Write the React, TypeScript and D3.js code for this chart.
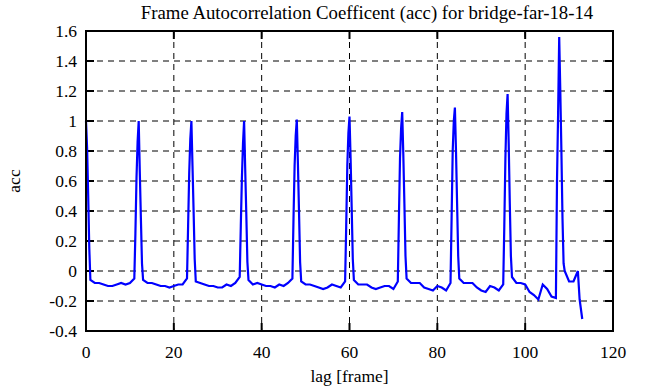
import React from 'react';
import * as d3 from 'd3';

// lag values (frames) and the matching autocorrelation coefficient
const lags: number[] = [
  0, 0.25, 0.5, 0.75, 1, 2, 3, 4, 5, 6, 7, 8, 9, 10, 11,
  11.25, 11.5, 11.75, 12, 12.25, 12.5, 12.75, 13, 14, 15, 16, 17, 18, 19, 20, 21, 22, 23,
  23.25, 23.5, 23.75, 24, 24.25, 24.5, 24.75, 25, 26, 27, 28, 29, 30, 31, 32, 33, 34, 35,
  35.25, 35.5, 35.75, 36, 36.25, 36.5, 36.75, 37, 38, 39, 40, 41, 42, 43, 44, 45, 46, 47,
  47.25, 47.5, 47.75, 48, 48.25, 48.5, 48.75, 49, 50, 51, 52, 53, 54, 55, 56, 57, 58, 59,
  59.25, 59.5, 59.75, 60, 60.25, 60.5, 60.75, 61, 62, 63, 64, 65, 66, 67, 68, 69, 70, 71,
  71.25, 71.5, 71.75, 72, 72.25, 72.5, 72.75, 73, 74, 75, 76, 77, 78, 79, 80, 81, 82, 83,
  83.25, 83.5, 83.75, 84, 84.25, 84.5, 84.75, 85, 86, 87, 88, 89, 90, 91, 92, 93, 94, 95,
  95.25, 95.5, 95.75, 96, 96.25, 96.5, 96.75, 97, 98, 99, 100, 101, 102, 103, 104, 105, 106, 107,
  107.25, 107.5, 107.75, 108, 108.25, 108.5, 108.75, 109, 110, 111, 112, 112.4, 113,
];

const acc: number[] = [
  1.0, 0.82, 0.5, 0.15, -0.06, -0.08, -0.08, -0.09, -0.1, -0.1, -0.09, -0.08, -0.09, -0.08, -0.05,
  0.25, 0.62, 0.86, 1.0, 0.66, 0.35, 0.05, -0.06, -0.08, -0.08, -0.09, -0.1, -0.1, -0.11, -0.1, -0.09, -0.09, -0.05,
  0.3, 0.65, 0.88, 1.0, 0.7, 0.4, 0.08, -0.07, -0.08, -0.09, -0.1, -0.1, -0.11, -0.11, -0.09, -0.1, -0.08, -0.04,
  0.3, 0.62, 0.85, 1.0, 0.68, 0.38, 0.06, -0.06, -0.09, -0.08, -0.09, -0.1, -0.1, -0.11, -0.09, -0.1, -0.08, -0.05,
  0.35, 0.7, 0.9, 1.01, 0.72, 0.4, 0.06, -0.07, -0.09, -0.09, -0.1, -0.11, -0.12, -0.11, -0.09, -0.1, -0.11, -0.07,
  0.3, 0.7, 0.92, 1.03, 0.75, 0.42, 0.08, -0.06, -0.09, -0.09, -0.09, -0.11, -0.12, -0.11, -0.1, -0.1, -0.12, -0.07,
  0.35, 0.75, 0.95, 1.06, 0.78, 0.45, 0.1, -0.05, -0.08, -0.08, -0.08, -0.11, -0.12, -0.13, -0.1, -0.11, -0.13, -0.08,
  0.35, 0.8, 1.0, 1.09, 0.8, 0.45, 0.1, -0.05, -0.08, -0.08, -0.08, -0.11, -0.13, -0.14, -0.1, -0.11, -0.13, -0.09,
  0.3, 0.75, 1.05, 1.18, 0.85, 0.45, 0.1, -0.04, -0.08, -0.08, -0.09, -0.14, -0.16, -0.19, -0.09, -0.12, -0.17, -0.18,
  0.6, 1.05, 1.56, 1.2, 0.8, 0.35, 0.05, 0.0, -0.07, -0.07, 0.0, -0.19, -0.32,
];

const xTicks = [0, 20, 40, 60, 80, 100, 120];
const yTicks = [-0.4, -0.2, 0, 0.2, 0.4, 0.6, 0.8, 1, 1.2, 1.4, 1.6];

const width = 656;
const height = 387;
const margin = { top: 31, right: 43, bottom: 56, left: 86 };
const innerW = width - margin.left - margin.right;
const innerH = height - margin.top - margin.bottom;
const font = '"Liberation Serif", "DejaVu Serif", serif';

const App: React.FC = () => {
  const x = d3.scaleLinear().domain([0, 120]).range([0, innerW]);
  const y = d3.scaleLinear().domain([-0.4, 1.6]).range([innerH, 0]);

  const points = lags.map((l, i) => [l, acc[i]] as [number, number]);
  const line = d3
    .line<[number, number]>()
    .x((d) => x(d[0]))
    .y((d) => y(d[1]));

  const tickLen = 8;

  return (
    <svg width={width} height={height} style={{ position: 'absolute', left: 0, top: 0, background: '#fff' }}>
      <text x={367} y={19} textAnchor="middle" fontFamily={font} fontSize={18.8}>
        Frame Autocorrelation Coefficent (acc) for bridge-far-18-14
      </text>
      <g transform={`translate(${margin.left},${margin.top})`}>
        {/* dashed grid */}
        {xTicks.slice(1, -1).map((t) => (
          <line key={'gx' + t} x1={x(t)} x2={x(t)} y1={0} y2={innerH} stroke="#000" strokeDasharray="6,5" />
        ))}
        {yTicks.slice(1, -1).map((t) => (
          <line key={'gy' + t} x1={0} x2={innerW} y1={y(t)} y2={y(t)} stroke="#000" strokeDasharray="6,5" />
        ))}
        {/* inward tick marks on all sides */}
        {xTicks.map((t) => (
          <g key={'tx' + t}>
            <line x1={x(t)} x2={x(t)} y1={innerH} y2={innerH - tickLen} stroke="#000" strokeWidth={2} />
            <line x1={x(t)} x2={x(t)} y1={0} y2={tickLen} stroke="#000" strokeWidth={2} />
            <text x={x(t)} y={innerH + 27} textAnchor="middle" fontFamily={font} fontSize={17.5}>
              {t}
            </text>
          </g>
        ))}
        {yTicks.map((t) => (
          <g key={'ty' + t}>
            <line x1={0} x2={tickLen} y1={y(t)} y2={y(t)} stroke="#000" strokeWidth={2} />
            <line x1={innerW} x2={innerW - tickLen} y1={y(t)} y2={y(t)} stroke="#000" strokeWidth={2} />
            <text x={-9} y={y(t) + 6} textAnchor="end" fontFamily={font} fontSize={17.5}>
              {d3.format('~g')(t).replace('−', '-')}
            </text>
          </g>
        ))}
        <path d={line(points) ?? ''} fill="none" stroke="#0000ff" strokeWidth={2.2} strokeLinejoin="miter" />
        <rect x={0} y={0} width={innerW} height={innerH} fill="none" stroke="#000" strokeWidth={2} />
      </g>
      <text x={margin.left + innerW / 2} y={382} textAnchor="middle" fontFamily={font} fontSize={17.5}>
        lag [frame]
      </text>
      <text
        transform={`translate(20,${margin.top + innerH / 2}) rotate(-90)`}
        textAnchor="middle"
        fontFamily={font}
        fontSize={17.5}
      >
        acc
      </text>
    </svg>
  );
};

export default App;
